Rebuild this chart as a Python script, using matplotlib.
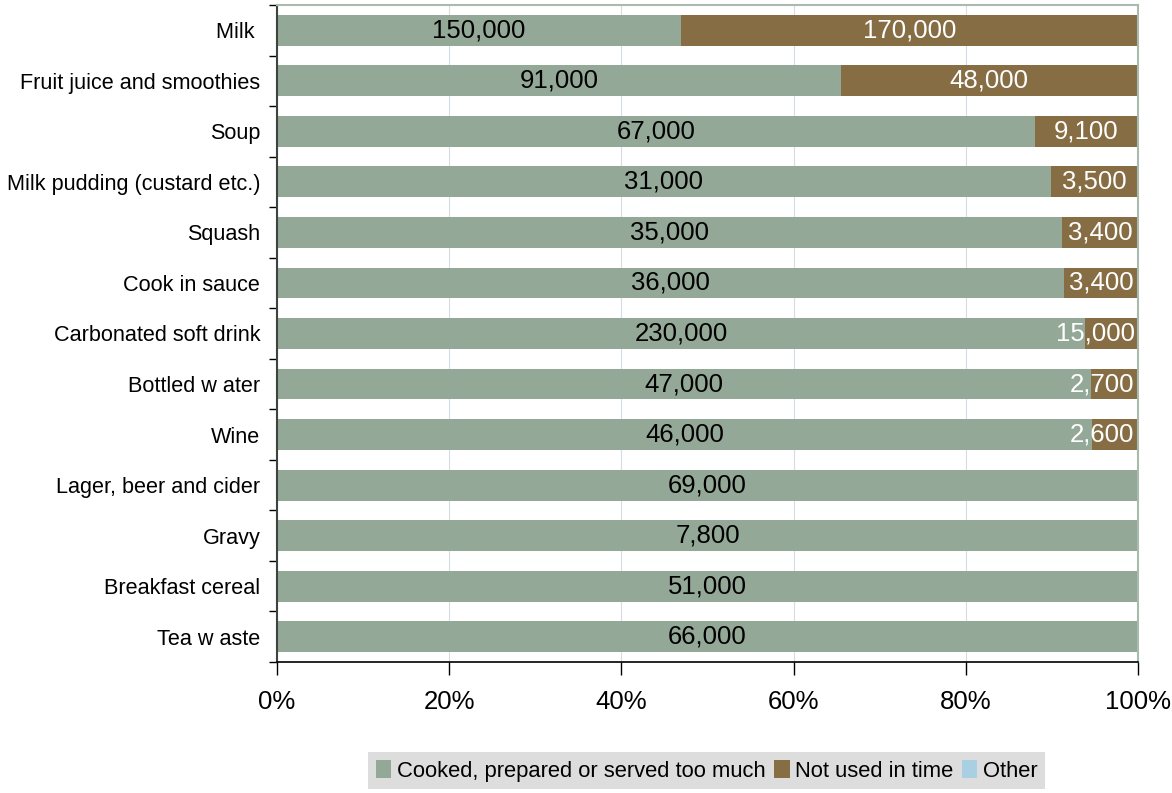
import numpy as np
import matplotlib as mpl
mpl.use('Agg')
import matplotlib.pyplot as plt
from matplotlib.patches import Patch

plt.rcParams['font.family'] = ['Liberation Sans', 'DejaVu Sans']

# food and drink waste by reason (tonnes)
categories = ['Milk ', 'Fruit juice and smoothies', 'Soup', 'Milk pudding (custard etc.)',
              'Squash', 'Cook in sauce', 'Carbonated soft drink', 'Bottled w ater',
              'Wine', 'Lager, beer and cider', 'Gravy', 'Breakfast cereal', 'Tea w aste']
cooked = [150000, 91000, 67000, 31000, 35000, 36000, 230000, 47000, 46000, 69000, 7800, 51000, 66000]
not_used = [170000, 48000, 9100, 3500, 3400, 3400, 15000, 2700, 2600, 0, 0, 0, 0]
other = [0, 0, 0, 0, 0, 0, 0, 0, 0, 0, 0, 0, 0]
series_names = ['Cooked, prepared or served too much', 'Not used in time', 'Other']
xtick_labels = ['0%', '20%', '40%', '60%', '80%', '100%']

green = '#94A897'
brown = '#876D44'
blue = '#A8CFE2'

cooked = np.array(cooked, dtype=float)
not_used = np.array(not_used, dtype=float)
other = np.array(other, dtype=float)
total = cooked + not_used + other
p_cooked = cooked / total
p_not = not_used / total
p_other = other / total

fig = plt.figure(figsize=(11.72, 7.93), dpi=100)
ax = fig.add_axes([0.2363, 0.1652, 0.9710 - 0.2363, 0.9937 - 0.1652])

y = np.arange(len(categories))
h = 0.61
ax.barh(y, p_cooked, height=h, color=green, zorder=2)
ax.barh(y, p_not, left=p_cooked, height=h, color=brown, zorder=2)
ax.barh(y, p_other, left=p_cooked + p_not, height=h, color=blue, zorder=2)

for i in range(len(categories)):
    ax.text(p_cooked[i] / 2, y[i], f'{int(cooked[i]):,}', ha='center', va='center',
            fontsize=18.5, color='black', zorder=3)
    if not_used[i] > 0:
        xc = p_cooked[i] + p_not[i] / 2
        if p_not[i] < 0.07:
            # narrow segments: keep the label inside the plot area
            ax.text(0.996, y[i], f'{int(not_used[i]):,}', ha='right', va='center',
                    fontsize=18.5, color='white', zorder=3)
        else:
            ax.text(xc, y[i], f'{int(not_used[i]):,}', ha='center', va='center',
                    fontsize=18.5, color='white', zorder=3)

ax.set_xlim(0, 1)
ax.set_ylim(len(categories) - 0.5, -0.5)

ax.set_xticks(np.linspace(0, 1, 6))
ax.set_xticklabels(xtick_labels, fontsize=18.5)
ax.tick_params(axis='x', direction='out', length=9, width=1, pad=11, color='black')
ax.grid(axis='x', color='#D5DCE6', linewidth=0.8, zorder=0)

# category boundaries get the tick marks, centres get the labels
ax.set_yticks(np.arange(len(categories) + 1) - 0.5)
ax.set_yticklabels([])
ax.set_yticks(y, minor=True)
ax.set_yticklabels(categories, minor=True, fontsize=15.6)
ax.tick_params(axis='y', which='major', direction='out', length=6, width=1, color='black')
ax.tick_params(axis='y', which='minor', length=0, pad=12)

ax.spines['left'].set_color('#3C4440')
ax.spines['left'].set_linewidth(1.5)
ax.spines['bottom'].set_color('black')
ax.spines['bottom'].set_linewidth(1.2)
for s in ['top', 'right']:
    ax.spines[s].set_color('#A9BBAE')
    ax.spines[s].set_linewidth(1.5)

handles = [Patch(facecolor=c, edgecolor='none') for c in [green, brown, blue]]
leg = fig.legend(handles, series_names, loc='center', bbox_to_anchor=(0.603, 0.028),
                 ncol=3, fontsize=15.8, frameon=True, fancybox=False,
                 handlelength=0.7, handleheight=0.9, handletextpad=0.25,
                 columnspacing=0.4, borderpad=0.35)
leg.get_frame().set_facecolor('#DDDDDD')
leg.get_frame().set_edgecolor('none')
leg.get_frame().set_alpha(1)

fig.savefig('out.png', dpi=100)
